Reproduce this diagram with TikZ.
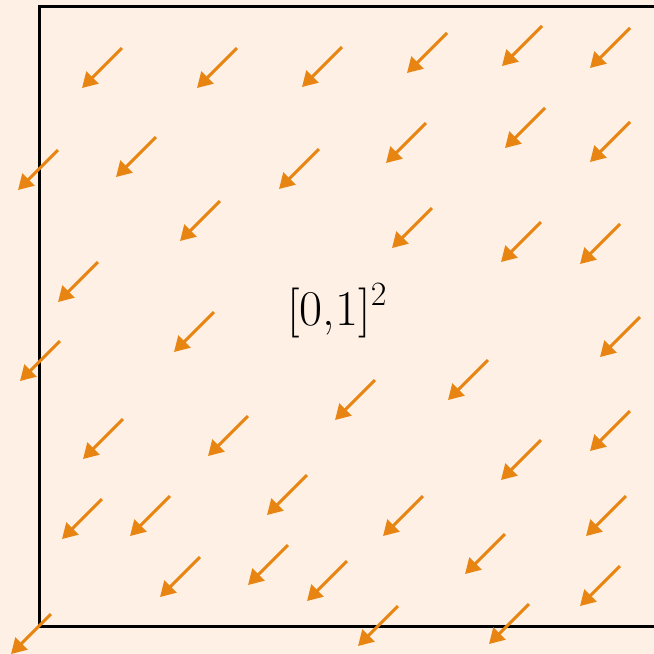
\documentclass[tikz,border=0pt]{standalone}
\usepackage{fontspec}
\usepackage{tikz}
\usetikzlibrary{arrows.meta}
\definecolor{fieldbg}{RGB}{254,240,228}
\definecolor{fieldorange}{RGB}{232,133,18}

\begin{document}
\begin{tikzpicture}[x=1pt, y=-1pt,
      frame/.style={draw=black, line width=3pt},
      vec/.style={-{Triangle[length=15pt, width=17pt]}, line width=2.9pt, fieldorange},
      lbl/.style={font=\fontsize{50}{58}\selectfont}]
    \useasboundingbox (0,0) rectangle (654,654);
    \clip (0,0) rectangle (654,654);
    \fill[fieldbg] (0,0) rectangle (654,654);
    % unit square
    \draw[frame] (39,6) rectangle (680,626);
    \node[lbl] (sq) at (337,310) {[0,1]\raisebox{0.4em}{\fontsize{34}{40}\selectfont 2}};
    % vector field, arrow tips
    \foreach \x/\y in {82/88, 197/88, 302/87, 407/73, 502/66, 590/68,
        18/190, 116/177, 279/189, 386/163, 505/148, 590/162,
        180/241, 392/248, 501/262, 580/264,
        58/302, 174/352, 20/381, 600/357,
        335/420, 448/400, 83/459, 208/456, 501/480, 590/451,
        62/539, 130/536, 267/515, 383/536, 586/536,
        160/597, 248/585, 307/601, 465/574, 580/606,
        358/646, 489/644, 11/654}
      \draw[vec] (\x+40,\y-40) -- (\x,\y);
  \end{tikzpicture}
\end{document}
